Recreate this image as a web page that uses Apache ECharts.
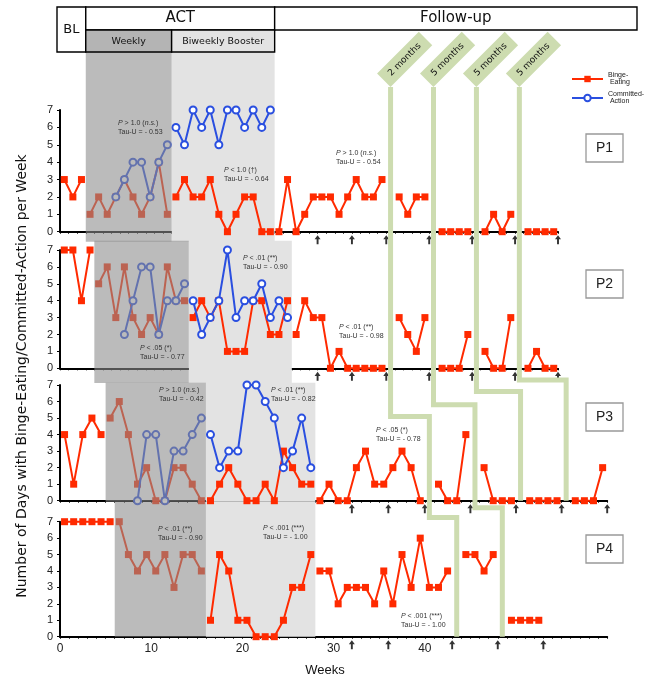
<!DOCTYPE html>
<html><head><meta charset="utf-8">
<script src="https://cdn.jsdelivr.net/npm/echarts@6/dist/echarts.min.js"></script>
<style>html,body{margin:0;padding:0;background:#fff}#c{width:645px;height:678px}</style>
</head><body><div id="c"></div>
<script>
const D = '-';
// ---- data (index = session slot, '-' = no session) ----
const p1Binge  = [3,2,3,1,2,1,2,3,2,1, 2,4,1,2,3,2,2,3,1,0, 1,2,2,0,0,0,3,0,1,2, 2,2,1,2,3,2,2,3,D,2, 1,2,2,D,0,0,0,0,D,0, 1,0,1,D,0,0,0,0];
const p1Commit = [D,D,D,D,D,D,2,3,4,4, 2,4,5,6,5,7,6,7,5,7, 7,6,7,6,7];
const p2Binge  = [7,7,4,7,5,6,3,6,3,2, 3,2,6,4,4,3,4,3,4,1, 1,1,4,4,2,2,4,2,4,3, 3,0,1,0,0,0,0,0,D,3, 2,1,3,D,0,0,0,2,D,1, 0,0,3,D,0,1,0,0];
const p2Commit = [D,D,D,D,D,D,D,2,4,6, 6,2,4,4,5,4,2,3,4,7, 3,4,4,5,3,4,3];
const p3Binge  = [4,1,4,5,4,5,6,4,1,2, 0,0,2,2,1,0,0,1,2,1, 0,0,1,0,3,2,1,1,0,1, 0,0,2,3,1,1,2,3,2,0, D,1,0,0,4,D,2,0,0,0, D,0,0,0,0,D,0,0,0,2];
const p3Commit = [D,D,D,D,D,D,D,D,0,4, 4,0,3,3,4,5,4,2,3,3, 7,7,6,5,2,3,5,2];
const p4Binge  = [7,7,7,7,7,7,7,5,4,5, 4,5,3,5,5,4,1,5,4,1, 1,0,0,0,1,3,3,5,4,4, 2,3,3,3,2,4,2,5,3,6, 3,3,4,D,5,5,4,5,D,1, 1,1,1];
const p4Commit = [];
// phase boundaries: [start, weekly, biweekly, follow-up, end]
const p1Phases = [0,3,13,25,58];
const p2Phases = [0,4,15,27,58];
const p3Phases = [0,5,16,28,60];
const p4Phases = [0,6,16,28,60];
// follow-up assessment arrows (slot boundaries)
const p1Arrows = [30,34,38,43,48,53,58];
const p2Arrows = [30,34,38,43,48,53,58];
const p3Arrows = [32,36,40,45,50,55,60];
const p4Arrows = [32,36,43,48,53];
// follow-up gaps where green phase lines run
const p1Gaps = [38,43,48,53];
const p3Gaps = [40,45,50,55];
const p4Gaps = [43,48];
const monthLabels = ['2 months','5 months','5 months','5 months'];
const weekTicks = [0,10,20,30,40];
const yTicks = [0,1,2,3,4,5,6,7];
const panelNames = ['P1','P2','P3','P4'];
const statTop = [
 ['{i|P} > 1.0 ({i|n.s.})','{i|P} < 1.0 (†)','{i|P} > 1.0 ({i|n.s.})'],
 ['{i|P} < .05 (*)','{i|P} < .01 (**)','{i|P} < .01 (**)'],
 ['{i|P} > 1.0 ({i|n.s.})','{i|P} < .01 (**)','{i|P} < .05 (*)'],
 ['{i|P} < .01 (**)','{i|P} < .001 (***)','{i|P} < .001 (***)']
];
const statTau = [
 ['0.53','0.64','0.54'],
 ['0.77','0.90','0.98'],
 ['0.42','0.82','0.78'],
 ['0.90','1.00','1.00']
];

// ---- layout / style ----
const RED = '#ff2a00', BLUE = '#2a4fe0', GREEN = '#cddcb0';
const gridLayout = [
  {top:110, height:121.7, width:498},
  {top:250, height:118.3, width:498},
  {top:385, height:115.7, width:547.2},
  {top:521.7, height:115, width:547.2}
];
const shadeRange = [[-0.58,10.33],[-0.87,7.55],[-0.06,7.13],[0,8.21]];
const statPos = [
  [[118,123],[224,170],[336,153]],
  [[140,348],[243,258],[339,327]],
  [[159,390],[271,390],[376,430]],
  [[158,529],[263,528],[401,616]]
];
const pBoxY = [148,284,417,549];
const jog3 = [5.1,5.8,6.6,7.3];
const jog4 = [7.25,7.85];
const greenTop = 8.32;

const panels = [
  {binge:p1Binge, commit:p1Commit, phases:p1Phases, arrows:p1Arrows},
  {binge:p2Binge, commit:p2Commit, phases:p2Phases, arrows:p2Arrows},
  {binge:p3Binge, commit:p3Commit, phases:p3Phases, arrows:p3Arrows},
  {binge:p4Binge, commit:p4Commit, phases:p4Phases, arrows:p4Arrows}
];

function runs(vals, phases){
  const out=[]; let cur=[];
  vals.forEach((v,i)=>{
    if (phases.includes(i) && cur.length){ out.push(cur); cur=[]; }
    if (v===D || v==null){ if(cur.length){ out.push(cur); cur=[]; } return; }
    cur.push([i+0.5, v]);
  });
  if (cur.length) out.push(cur);
  return out;
}

const grids=[], xAxes=[], yAxes=[], series=[];
panels.forEach((p,i)=>{
  const L = gridLayout[i];
  const slots = p.phases[p.phases.length-1];
  grids.push({left:60, top:L.top, width:L.width, height:L.height, outerBoundsMode:'none', containLabel:false});
  xAxes.push({type:'value', gridIndex:i, min:0, max:slots, interval:1,
    axisLine:{show:true, onZero:false, lineStyle:{color:'#000', width:2}},
    axisTick:{show:true, length:2, lineStyle:{color:'#000', width:1}},
    splitLine:{show:false},
    axisLabel:{show:i===3, fontSize:12, color:'#222', fontFamily:'Liberation Sans', margin:6,
      formatter: v => weekTicks.includes(v) ? String(v) : ''}
  });
  yAxes.push({type:'value', gridIndex:i, min:0, max:7, interval:1,
    axisLine:{show:true, onZero:false, lineStyle:{color:'#000', width:2}},
    axisTick:{show:true, length:3, lineStyle:{color:'#000', width:1}},
    splitLine:{show:false},
    axisLabel:{fontSize:11, color:'#222', fontFamily:'Liberation Sans', margin:7,
      formatter: v => yTicks.includes(v) ? String(v) : ''}
  });
  const [y0,y1] = shadeRange[i];
  const ph = p.phases;
  const shade = (data, fill, z, zlevel, name) => ({
    type:'custom', name, xAxisIndex:i, yAxisIndex:i, z, zlevel, silent:true, clip:false,
    data, encode:{x:[0,1], y:[2,3]},
    renderItem:(params, api)=>{
      const a = api.coord([api.value(0), api.value(3)]);
      const b = api.coord([api.value(1), api.value(2)]);
      return {type:'rect', shape:{x:a[0], y:a[1], width:b[0]-a[0], height:b[1]-a[1]}, style:{fill}};
    }
  });
  series.push(shade([[ph[2], ph[3], y0, y1]], '#e3e3e3', 1, 0, 'light'+i));
  series.push(shade([[ph[1], ph[2], y0, y1]], 'rgba(140,140,140,0.59)', 8, 1, 'dark'+i));
  runs(p.binge, ph).forEach(r=>series.push({
    type:'line', name:'Binge-Eating', xAxisIndex:i, yAxisIndex:i, data:r, z:4, clip:false,
    symbol:'rect', symbolSize:7, showAllSymbol:true,
    lineStyle:{color:RED, width:2}, itemStyle:{color:RED}, emphasis:{disabled:true}
  }));
  runs(p.commit, ph).forEach(r=>series.push({
    type:'line', name:'Committed-Action', xAxisIndex:i, yAxisIndex:i, data:r, z:5, clip:false,
    symbol:'circle', symbolSize:7, showAllSymbol:true,
    lineStyle:{color:BLUE, width:2}, itemStyle:{color:'#fff', borderColor:BLUE, borderWidth:2}, emphasis:{disabled:true}
  }));
  series.push({type:'scatter', name:'arrows'+i, xAxisIndex:i, yAxisIndex:i, z:6, clip:false, silent:true,
    data:p.arrows.map(k=>[k,0]),
    symbol:'path://M5,0 L10,5.5 L6.6,5.5 L6.6,12 L3.4,12 L3.4,5.5 L0,5.5 Z',
    symbolSize:[6,9], symbolOffset:[0,8], itemStyle:{color:'#000'}});
});

const option = {
  animation:false,
  backgroundColor:'#fff',
  grid:grids, xAxis:xAxes, yAxis:yAxes, series,
  legend:{show:true, orient:'vertical', left:566, top:67, itemWidth:31, itemHeight:8, itemGap:5,
    data:['Binge-Eating','Committed-Action'], selectedMode:false,
    formatter: n => n.replace('-', '-\n '),
    textStyle:{fontSize:7, lineHeight:7, color:'#222', fontFamily:'Liberation Sans'}}
};
const chart = echarts.init(document.getElementById('c'));
chart.setOption(option);

// ---- annotations placed through the panels' scales ----
const ZL = 2;
const px = (g,x,y) => chart.convertToPixel({gridIndex:g}, [x,y]);
const mix = (gx,x,gy,y) => [px(gx,x,0)[0], px(gy,0,y)[1]];
const G = [];
// header
const hb = p1Phases.map(k=>px(0,k,0)[0]);
const hTop=7, hMid=30, hBot=52, hLeft=57, hRight=637;
const rect=(x,y,w,h,fill)=>({type:'rect', zlevel:ZL, z:100, shape:{x,y,width:w,height:h}, style:{fill, stroke:'#000', lineWidth:1.4}});
const txt=(x,y,t,fs,extra)=>({type:'text', zlevel:ZL, z:101, x, y, style:Object.assign({text:t, fontSize:fs, fill:'#111', align:'center', verticalAlign:'middle', fontFamily:'DejaVu Sans'}, extra||{})});
G.push(rect(hLeft,hTop,hb[1]-hLeft,hBot-hTop,'#fff'));
G.push(txt((hLeft+hb[1])/2, 30, 'BL', 13));
G.push(rect(hb[1],hTop,hb[3]-hb[1],hMid-hTop,'#fff'));
G.push(txt((hb[1]+hb[3])/2, 18.5, 'ACT', 15));
G.push(rect(hb[1],hMid,hb[2]-hb[1],hBot-hMid,'#b4b4b4'));
G.push(txt((hb[1]+hb[2])/2, 41.5, 'Weekly', 9.5));
G.push(rect(hb[2],hMid,hb[3]-hb[2],hBot-hMid,'#e3e3e3'));
G.push(txt((hb[2]+hb[3])/2, 41.5, 'Biweekly Booster', 9.5));
G.push(rect(hb[3],hTop,hRight-hb[3],hMid-hTop,'#fff'));
G.push(txt((hb[3]+hRight)/2, 18.5, 'Follow-up', 15));
// green phase lines + month labels
p1Gaps.forEach((g1,k)=>{
  const pts=[mix(0,g1+0.5,0,greenTop), mix(0,g1+0.5,2,jog3[k]), mix(2,p3Gaps[k]+0.5,2,jog3[k])];
  if (k < p4Gaps.length){
    pts.push(mix(2,p3Gaps[k]+0.5,3,jog4[k]), mix(3,p4Gaps[k]+0.5,3,jog4[k]), mix(3,p4Gaps[k]+0.5,3,0));
  } else {
    pts.push(mix(2,p3Gaps[k]+0.5,2,0));
  }
  G.push({type:'polyline', zlevel:ZL, z:90, shape:{points:pts}, style:{stroke:GREEN, lineWidth:5, fill:null}});
  const top = pts[0];
  G.push({type:'group', zlevel:ZL, z:91, x:top[0]+14.1, y:top[1]-27.6, rotation:Math.PI/4, children:[
    {type:'rect', zlevel:ZL, z:91, shape:{x:-29.5,y:-9.5,width:59,height:19}, style:{fill:GREEN}},
    {type:'text', zlevel:ZL, z:92, x:0, y:0, style:{text:monthLabels[k], fontSize:9, fill:'#111', align:'center', verticalAlign:'middle', fontFamily:'DejaVu Sans'}}
  ]});
});
// stats texts
statTop.forEach((row,i)=>row.forEach((t,j)=>{
  const [x,y]=statPos[i][j];
  G.push({type:'text', zlevel:ZL, z:101, x, y:y-4.5, style:{text:t+'\nTau-U = - '+statTau[i][j], fontSize:7, lineHeight:9,
    fill:'#333', fontFamily:'Liberation Sans', align:'left', verticalAlign:'top',
    rich:{i:{fontStyle:'italic', fontSize:7, fill:'#333', fontFamily:'Liberation Sans'}}}});
}));
// participant boxes
panelNames.forEach((n,i)=>{
  G.push({type:'rect', zlevel:ZL, z:100, shape:{x:586,y:pBoxY[i]-14,width:37,height:28}, style:{fill:'#fff', stroke:'#999', lineWidth:1.3}});
  G.push(txt(604.5, pBoxY[i], n, 14, {fontFamily:'Liberation Sans', fill:'#222'}));
});
// axis titles
G.push({type:'text', zlevel:ZL, z:101, x:22, y:376, rotation:Math.PI/2, style:{text:'Number of Days with Binge-Eating/Committed-Action per Week', fontSize:14, fill:'#111', align:'center', verticalAlign:'middle', fontFamily:'DejaVu Sans'}});
G.push(txt(325, 670, 'Weeks', 13, {fontFamily:'Liberation Sans'}));
chart.setOption({graphic:G});
</script></body></html>
